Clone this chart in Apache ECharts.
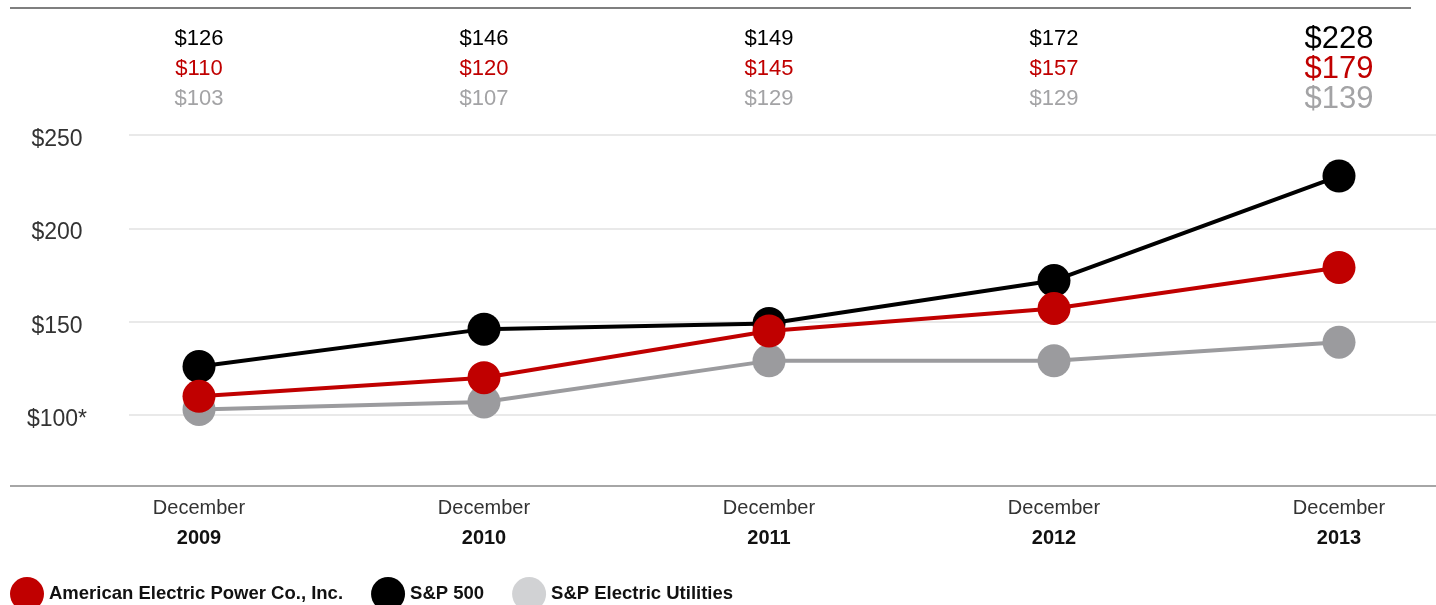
<!DOCTYPE html>
<html><head><meta charset="utf-8">
<script src="https://cdn.jsdelivr.net/npm/echarts@6/dist/echarts.min.js"></script>
<style>html,body{margin:0;padding:0;background:#fff}#c{width:1436px;height:605px}</style>
</head><body><div id="c"></div>
<script>
const years = ['2009', '2010', '2011', '2012', '2013'];
const aep = [110, 120, 145, 157, 179];
const sp500 = [126, 146, 149, 172, 228];
const util = [103, 107, 129, 129, 139];
const yTicks = [100, 150, 200, 250];
const names = ['American Electric Power Co., Inc.', 'S&P 500', 'S&P Electric Utilities'];

const RED = '#c00000', BLACK = '#000000', GRAY = '#9b9b9e', LEGGRAY = '#d1d2d4';
const FONT = 'Liberation Sans, Arial, sans-serif';

const chart = echarts.init(document.getElementById('c'), null, {renderer: 'canvas'});
const topRich = {
  Nk: {fontSize: 22, color: BLACK, lineHeight: 30, fontFamily: FONT},
  Nr: {fontSize: 22, color: RED, lineHeight: 30, fontFamily: FONT},
  Ng: {fontSize: 22, color: '#a3a3a5', lineHeight: 30, fontFamily: FONT},
  Lk: {fontSize: 31, color: BLACK, lineHeight: 30, fontFamily: FONT},
  Lr: {fontSize: 31, color: RED, lineHeight: 30, fontFamily: FONT},
  Lg: {fontSize: 31, color: '#a3a3a5', lineHeight: 30, fontFamily: FONT}
};
chart.setOption({
  animation: false,
  backgroundColor: '#fff',
  textStyle: {fontFamily: FONT},
  grid: [
    {left: 199, right: 97, top: 135, height: 280},
    {left: 129, right: 0, top: 135, height: 280}
  ],
  xAxis: [
    {type: 'category', gridIndex: 0, data: years, boundaryGap: false, position: 'bottom', offset: 71,
      axisLine: {show: false}, axisTick: {show: false}, splitLine: {show: false},
      axisLabel: {interval: 0, margin: 7, formatter: v => '{m|December}\n{y|' + v + '}',
        rich: {m: {fontSize: 20, color: '#333', lineHeight: 30, fontFamily: FONT},
               y: {fontSize: 20, color: '#111', fontWeight: 'bold', lineHeight: 30, fontFamily: FONT}}}},
    {type: 'category', gridIndex: 0, data: years, boundaryGap: false, position: 'top',
      axisLine: {show: false}, axisTick: {show: false}, splitLine: {show: false},
      axisLabel: {interval: 0, margin: 21, formatter: (v, i) => {
        const s = i === 4 ? 'L' : 'N';
        return '{' + s + 'k|$' + sp500[i] + '}\n{' + s + 'r|$' + aep[i] + '}\n{' + s + 'g|$' + util[i] + '}';
      }, rich: topRich}},
    {type: 'value', gridIndex: 1, show: false, min: 0, max: 1}
  ],
  yAxis: [
    {type: 'value', gridIndex: 0, min: yTicks[0], max: yTicks[yTicks.length - 1], interval: 50, show: false},
    {type: 'value', gridIndex: 1, min: yTicks[0], max: yTicks[yTicks.length - 1], interval: 50,
      axisLine: {show: false}, axisTick: {show: false},
      splitLine: {lineStyle: {color: '#e2e2e2', width: 1.5}},
      axisLabel: {align: 'center', margin: 72,
        formatter: v => '{a|' + (v === yTicks[0] ? '$' + v + '*' : '$' + v) + '}',
        rich: {a: {fontSize: 23, color: '#333', fontFamily: FONT, padding: [9, 0, 0, 0]}}}}
  ],
  legend: {
    left: 10, top: 577, padding: 0, icon: 'circle', itemWidth: 34, itemHeight: 34, itemGap: 28,
    textStyle: {fontSize: 18.5, fontWeight: 'bold', color: '#111', fontFamily: FONT, padding: [5, 0, 0, 0]},
    data: [
      {name: names[0], itemStyle: {color: RED}},
      {name: names[1], itemStyle: {color: BLACK}},
      {name: names[2], itemStyle: {color: LEGGRAY}}
    ],
    selectedMode: false
  },
  graphic: [
    {type: 'line', shape: {x1: 10, y1: 8, x2: 1411, y2: 8}, style: {stroke: '#555', lineWidth: 1.5}},
    {type: 'line', shape: {x1: 10, y1: 486, x2: 1436, y2: 486}, style: {stroke: '#888', lineWidth: 1.5}}
  ],
  series: [
    {name: names[2], type: 'line', xAxisIndex: 0, yAxisIndex: 0, data: util, symbol: 'circle', symbolSize: 33,
      itemStyle: {color: GRAY}, lineStyle: {color: GRAY, width: 4}, z: 2},
    {name: names[1], type: 'line', xAxisIndex: 0, yAxisIndex: 0, data: sp500, symbol: 'circle', symbolSize: 33,
      itemStyle: {color: BLACK}, lineStyle: {color: BLACK, width: 4}, z: 3},
    {name: names[0], type: 'line', xAxisIndex: 0, yAxisIndex: 0, data: aep, symbol: 'circle', symbolSize: 33,
      itemStyle: {color: RED}, lineStyle: {color: RED, width: 4}, z: 4}
  ]
});
</script></body></html>
